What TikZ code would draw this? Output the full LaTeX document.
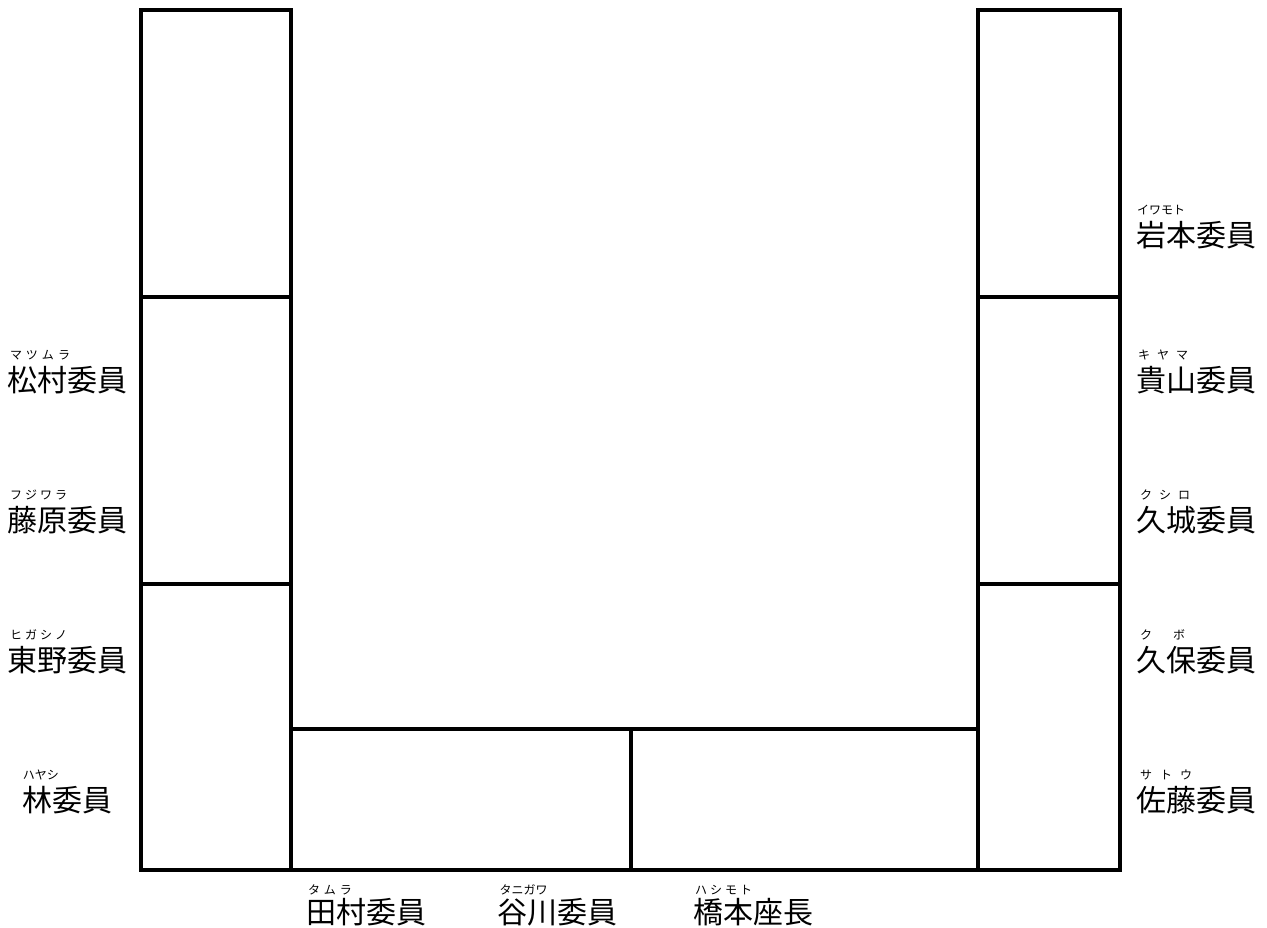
\documentclass[tikz,border=0pt]{standalone}
\usepackage{fontspec}
\newfontfamily\jp{Noto Sans CJK JP}
\tikzset{
  wall/.style={line width=4pt, line cap=rect},
  member/.style={font=\jp\fontsize{30}{30}\selectfont, inner sep=0pt, text height=26pt, text depth=4pt, anchor=center},
  rubytext/.style={font=\jp\fontsize{12}{12}\selectfont, inner sep=0pt, text height=10.3pt, text depth=1.7pt, anchor=center}
}
\newcommand{\rbx}[2]{\makebox[#1pt][s]{#2}}
\begin{document}
\begin{tikzpicture}[x=1pt,y=-1pt]
\useasboundingbox (0,0) rectangle (1267,928);
% left column
\coordinate (L1) at (141,10); \coordinate (L2) at (291,870);
\draw[wall] (L1) rectangle (L2);
\coordinate (La) at (141,297); \coordinate (Lb) at (291,297);
\coordinate (Lc) at (141,584); \coordinate (Ld) at (291,584);
\draw[wall] (La) -- (Lb);
\draw[wall] (Lc) -- (Ld);
% right column
\coordinate (R1) at (978,10); \coordinate (R2) at (1120,870);
\draw[wall] (R1) rectangle (R2);
\coordinate (Ra) at (978,297); \coordinate (Rb) at (1120,297);
\coordinate (Rc) at (978,584); \coordinate (Rd) at (1120,584);
\draw[wall] (Ra) -- (Rb);
\draw[wall] (Rc) -- (Rd);
% bottom table
\coordinate (B1) at (291,729); \coordinate (B2) at (978,870);
\draw[wall] (B1) rectangle (B2);
\coordinate (Ba) at (631,729); \coordinate (Bb) at (631,870);
\draw[wall] (Ba) -- (Bb);
% left labels
\node[member] (matsumura) at (68,380) {松村委員};
\node[rubytext] (rmatsumura) at (40,355) {\rbx{60}{マ\hfill ツ\hfill ム\hfill ラ}};
\node[member] (fujiwara) at (68,520) {藤原委員};
\node[rubytext] (rfujiwara) at (38.5,495) {\rbx{57}{フ\hfill ジ\hfill ワ\hfill ラ}};
\node[member] (higashino) at (68,660) {東野委員};
\node[rubytext] (rhigashino) at (38.5,635) {\rbx{57}{ヒ\hfill ガ\hfill シ\hfill ノ}};
\node[member] (hayashi) at (68,800) {林委員};
\node[rubytext] (rhayashi) at (41,775) {\rbx{36}{ハ\hfill ヤ\hfill シ}};
% right labels
\node[member] (iwamoto) at (1196,236) {岩本委員};
\node[rubytext] (riwamoto) at (1160,210) {\rbx{46}{イ\hfill ワ\hfill モ\hfill ト}};
\node[member] (kiyama) at (1196,380) {貴山委員};
\node[rubytext] (rkiyama) at (1163,355) {\rbx{50}{キ\hfill ヤ\hfill マ}};
\node[member] (kushiro) at (1196,520) {久城委員};
\node[rubytext] (rkushiro) at (1165,495) {\rbx{50}{ク\hfill シ\hfill ロ}};
\node[member] (kubo) at (1196,660) {久保委員};
\node[rubytext] (rkubo) at (1162.5,635) {\rbx{45}{ク\hfill ボ}};
\node[member] (sato) at (1196,800) {佐藤委員};
\node[rubytext] (rsato) at (1166,775) {\rbx{52}{サ\hfill ト\hfill ウ}};
% bottom labels
\node[member] (tamura) at (366,912) {田村委員};
\node[rubytext] (rtamura) at (330,890) {\rbx{44}{タ\hfill ム\hfill ラ}};
\node[member] (tanigawa) at (557,912) {谷川委員};
\node[rubytext] (rtanigawa) at (523.5,890) {\rbx{48}{タ\hfill ニ\hfill ガ\hfill ワ}};
\node[member] (hashimoto) at (753,912) {橋本座長};
\node[rubytext] (rhashimoto) at (723.5,890) {\rbx{57}{ハ\hfill シ\hfill モ\hfill ト}};
\end{tikzpicture}
\end{document}
